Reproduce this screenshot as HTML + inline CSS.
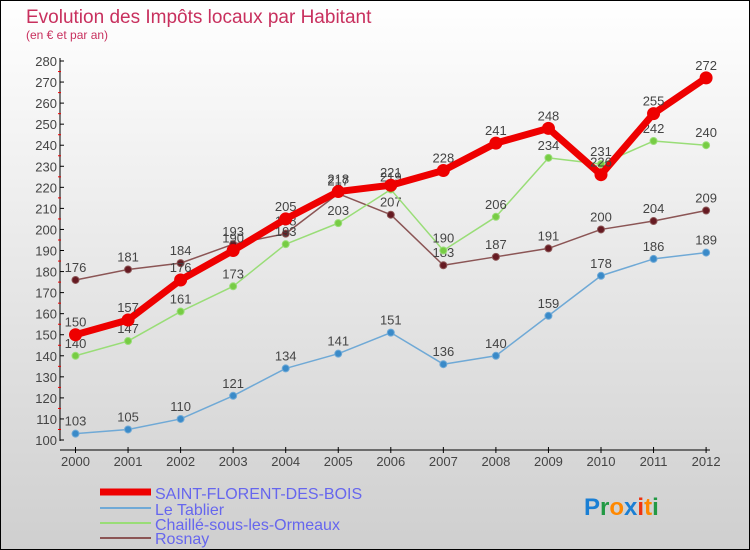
<!DOCTYPE html>
<html><head><meta charset="utf-8"><style>
body{margin:0;width:750px;height:550px;overflow:hidden;}
svg{display:block;font-family:"Liberation Sans",sans-serif;}
</style></head><body>
<svg id="chart" width="750" height="550">
<defs><linearGradient id="bg" x1="0" y1="0" x2="0" y2="1"><stop offset="0" stop-color="#ffffff"/><stop offset="1" stop-color="#cfcfcf"/></linearGradient></defs>
<rect x="0.5" y="0.5" width="749" height="549" fill="url(#bg)" stroke="#000"/>
<text x="26" y="23" font-size="19" fill="#c8305e">Evolution des Impôts locaux par Habitant</text>
<text x="26" y="39" font-size="12" fill="#c8305e">(en € et par an)</text>
<g id="axes"></g><g id="series"></g>
<g>
<line x1="100" y1="492" x2="151" y2="492" stroke="#ee0000" stroke-width="7"/>
<text x="155" y="499" font-size="16" fill="#6666ee">SAINT-FLORENT-DES-BOIS</text>
<line x1="100" y1="508" x2="151" y2="508" stroke="#6fa9d6" stroke-width="2"/>
<text x="155" y="515" font-size="16" fill="#6666ee">Le Tablier</text>
<line x1="100" y1="523" x2="151" y2="523" stroke="#99dd77" stroke-width="2"/>
<text x="155" y="530" font-size="16" fill="#6666ee">Chaillé-sous-les-Ormeaux</text>
<line x1="100" y1="538" x2="151" y2="538" stroke="#8b5555" stroke-width="2"/>
<text x="155" y="544" font-size="16" fill="#6666ee">Rosnay</text>
</g>
<g font-size="24" font-weight="bold">
<text x="584" y="515"><tspan fill="#1a7fd4">P</tspan><tspan fill="#229944">r</tspan><tspan fill="#ff8800">o</tspan><tspan fill="#1a7fd4">x</tspan><tspan fill="#ee3311">i</tspan><tspan fill="#ff8800">t</tspan><tspan fill="#229944">i</tspan></text>
</g>
</svg>
<script>
const years=[2000,2001,2002,2003,2004,2005,2006,2007,2008,2009,2010,2011,2012];
const sfb=[150,157,176,190,205,218,221,228,241,248,226,255,272];
const tablier=[103,105,110,121,134,141,151,136,140,159,178,186,189];
const chaille=[140,147,161,173,193,203,219,190,206,234,231,242,240];
const rosnay=[176,181,184,193,198,217,207,183,187,191,200,204,209];
const yTicks=[100,110,120,130,140,150,160,170,180,190,200,210,220,230,240,250,260,270,280];
const NS="http://www.w3.org/2000/svg";
const xS=i=>75.5+i*52.55;
const yS=v=>440-(v-100)*(379/180);
function mk(t,a,p){const e=document.createElementNS(NS,t);for(const k in a)e.setAttribute(k,a[k]);p.appendChild(e);return e;}
const ax=document.getElementById('axes');
const yl=mk('line',{x1:60,y1:58,x2:60,y2:441,stroke:'#000'},ax);


const xl=mk('line',{x1:60,y1:450,x2:710,y2:450,stroke:'#000'},ax);


yTicks.forEach(v=>{const y=yS(v);
mk('line',{x1:60,y1:y,x2:64,y2:y,stroke:'#000'},ax);
if(v<280)mk('line',{x1:58,y1:y-10.5,x2:61,y2:y-10.5,stroke:'#e00'},ax);
const t=mk('text',{x:57,y:y+5,'font-size':13,fill:'#444','text-anchor':'end'},ax);t.textContent=v;

});
years.forEach((yr,i)=>{const x=xS(i);
mk('line',{x1:x,y1:447,x2:x,y2:453,stroke:'#000'},ax);
const t=mk('text',{x:x,y:466,'font-size':13,fill:'#444','text-anchor':'middle'},ax);t.textContent=yr;

});
const sg=document.getElementById('series');
function draw(data,color,dot,w,r,name){
const g=mk('g',{},sg);


mk('polyline',{points:data.map((v,i)=>xS(i)+','+yS(v)).join(' '),fill:'none',stroke:color,'stroke-width':w,'stroke-linejoin':'round'},g);
data.forEach((v,i)=>{const c=mk('circle',{cx:xS(i),cy:yS(v),r:r,fill:dot,stroke:color,'stroke-width':1},g);


const t=mk('text',{x:xS(i),y:yS(v)-8,'font-size':13,fill:'#444','text-anchor':'middle'},g);t.textContent=v;

});}
draw(tablier,'#6fa9d6','#3a8ac8',1.5,3.5,'series-le-tablier');
draw(rosnay,'#8b5555','#661a22',1.5,3.5,'series-rosnay');
draw(chaille,'#99dd77','#77cc44',1.5,3.5,'series-chaille');
draw(sfb,'#ee0000','#ee0000',7,6,'series-saint-florent');
</script>
</body></html>
